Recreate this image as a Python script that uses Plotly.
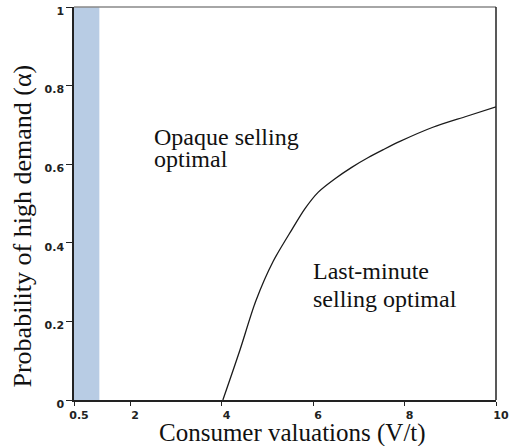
import plotly.graph_objects as go

# ---- data ----
x_min = 0.776          # left edge of the axis (labelled "0.5" in the original)
x_max = 10.0
band_x = [x_min, 1.33]  # shaded region
curve_x = [4.03, 4.40, 4.75, 5.13, 5.535, 5.825, 6.116, 6.481, 6.846, 7.209, 7.537, 7.90, 8.62, 9.36, 10.0]
curve_y = [0.0, 0.126, 0.252, 0.353, 0.433, 0.487, 0.529, 0.563, 0.592, 0.617, 0.637, 0.658, 0.694, 0.722, 0.746]
x_tick_vals = [x_min, 2, 4, 6, 8, 10]
x_tick_text = ["0.5", "2", "4", "6", "8", "10"]
y_tick_vals = [0, 0.2, 0.4, 0.6, 0.8, 1]
y_tick_text = ["0", "0.2", "0.4", "0.6", "0.8", "1"]
region_labels = [
    ("Opaque selling", 2.48, 0.668),
    ("optimal", 2.48, 0.613),
    ("Last-minute", 5.95, 0.329),
    ("selling optimal", 5.95, 0.258),
]
x_title = "Consumer valuations (V/t)"
y_title = "Probability of high demand (α)"

serif = "Liberation Serif"
tick_font = dict(family="DejaVu Sans", size=11, color="#222", weight="bold")

fig = go.Figure()

# shaded band
fig.add_trace(go.Scatter(
    x=[band_x[0], band_x[1], band_x[1], band_x[0], band_x[0]],
    y=[0, 0, 1, 1, 0],
    fill="toself", fillcolor="#b8cce4", line=dict(width=0),
    mode="lines", hoverinfo="skip", showlegend=False,
))

# boundary curve
fig.add_trace(go.Scatter(
    x=curve_x, y=curve_y, mode="lines",
    line=dict(color="#1a1a1a", width=1.3, shape="spline", smoothing=0.8),
    showlegend=False,
))

for text, xv, yv in region_labels:
    fig.add_annotation(x=xv, y=yv, xref="x", yref="y", text=text, showarrow=False,
                       xanchor="left", yanchor="middle",
                       font=dict(family=serif, size=24, color="#111"))

# axis titles
fig.add_annotation(x=0.5, y=0, xref="paper", yref="paper", text=x_title, showarrow=False,
                   xanchor="center", yanchor="middle", xshift=7, yshift=-33,
                   font=dict(family=serif, size=25, color="#111"))
fig.add_annotation(x=0, y=0.5, xref="paper", yref="paper", text=y_title, showarrow=False,
                   textangle=-90, xanchor="center", yanchor="middle", xshift=-52, yshift=-23,
                   font=dict(family=serif, size=26, color="#111"))

# frame: top (grey) and right (black)
fig.add_shape(type="line", xref="paper", yref="paper", x0=0, x1=1, y0=1, y1=1,
              line=dict(color="#888", width=1.5))
fig.add_shape(type="line", xref="paper", yref="paper", x0=1, x1=1, y0=0, y1=1,
              line=dict(color="#222", width=1.5))

fig.update_xaxes(range=[x_min, x_max], tickvals=x_tick_vals, ticktext=x_tick_text,
                 showgrid=False, zeroline=False, showline=True, linecolor="#222", linewidth=1.5,
                 ticks="outside", ticklen=4, tickcolor="#222", tickfont=tick_font,
                 ticklabelshift=5, automargin=False)
fig.update_yaxes(range=[0, 1], tickvals=y_tick_vals, ticktext=y_tick_text,
                 showgrid=False, zeroline=False, showline=True, linecolor="#222", linewidth=1.5,
                 ticks="outside", ticklen=6, tickcolor="#222", tickfont=tick_font,
                 ticklabelshift=4, automargin=False)

fig.update_layout(
    width=516, height=446,
    margin=dict(l=74, r=20, t=7, b=46, autoexpand=False),
    paper_bgcolor="white", plot_bgcolor="white",
    showlegend=False,
)

fig.write_html("out.html", config={"displayModeBar": False},
               post_script="document.body.style.margin='0';")
